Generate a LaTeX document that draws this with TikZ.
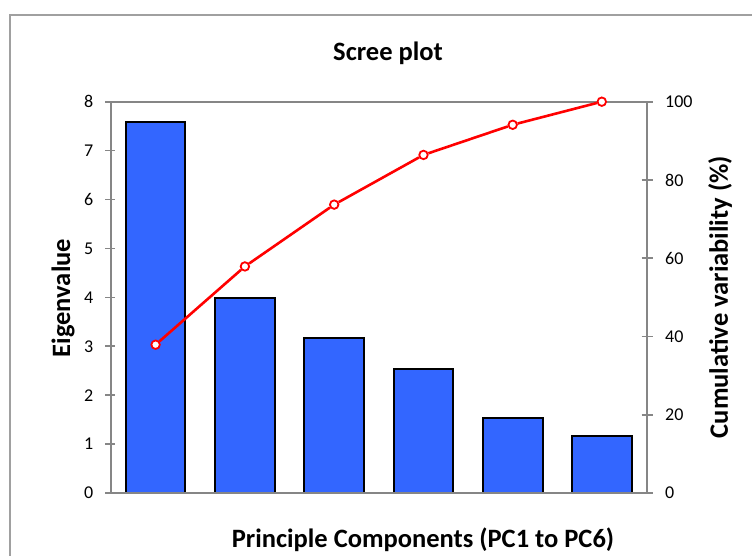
\documentclass[tikz,border=0pt]{standalone}
\usepackage{fontspec}
\setmainfont{Carlito}
\definecolor{barblue}{RGB}{51,102,255}
\definecolor{axisgray}{RGB}{134,134,134}
\definecolor{framegray}{RGB}{160,160,160}
\definecolor{linered}{RGB}{255,0,0}
\begin{document}
\begin{tikzpicture}[x=1pt,y=-1pt,
  axisline/.style={draw=axisgray,line width=2pt},
  tickline/.style={draw=axisgray,line width=1.6pt},
  bar/.style={draw=black,line width=2pt,fill=barblue},
  ticklab/.style={font=\fontsize{18}{21}\selectfont,inner sep=0pt},
  axtitle/.style={font=\fontsize{26.5}{30}\selectfont\bfseries,inner sep=0pt},
  mk/.style={circle,draw=linered,fill=white,line width=1.8pt,minimum size=8.5pt,inner sep=0pt},
  cumline/.style={draw=linered,line width=2.6pt}]
\useasboundingbox (0,0) rectangle (752,556);
\fill[white] (0,0) rectangle (752,556);
% outer frame
\draw[draw=framegray,line width=2pt] (10,570) -- (10,15) -- (770,15);
% bars
\foreach \c/\v in {155.6/7.58,244.9/3.99,334.2/3.17,423.5/2.54,512.7/1.53,602.0/1.17}{
  \draw[bar] (\c-29.8,493) rectangle (\c+29.8,{493-48.94*\v});
}
% axes
\draw[axisline] (111,101.7) -- (111,493);
\draw[axisline] (646.7,101.7) -- (646.7,493);
\draw[axisline] (105,493) -- (652.5,493);
\draw[axisline] (105,101.7) -- (652.5,101.7);
\foreach \k in {1,...,7}{
  \draw[tickline] (105,{493-48.91*\k}) -- (114.5,{493-48.91*\k});
}
\foreach \k in {1,...,4}{
  \draw[tickline] (641.5,{493-78.26*\k}) -- (652.5,{493-78.26*\k});
}
% tick labels
\foreach \k in {0,...,8}{
  \node[ticklab,anchor=east] at (93.5,{493-48.91*\k}) {\k};
}
\foreach \k in {0,20,40,60,80,100}{
  \node[ticklab,anchor=west] at (665,{493-3.913*\k}) {\k};
}
% cumulative line
\node[mk] (p1) at (155.6,{493-3.913*37.9}) {};
\node[mk] (p2) at (244.9,{493-3.913*57.9}) {};
\node[mk] (p3) at (334.2,{493-3.913*73.7}) {};
\node[mk] (p4) at (423.5,{493-3.913*86.4}) {};
\node[mk] (p5) at (512.7,{493-3.913*94.1}) {};
\node[mk] (p6) at (601.8,{493-3.913*100}) {};
\draw[cumline] (p1) -- (p2) -- (p3) -- (p4) -- (p5) -- (p6);
% titles
\node[axtitle] (title) at (388,53) {Scree plot};
\node[axtitle,rotate=90] (ylab) at (63,298) {Eigenvalue};
\node[axtitle,rotate=90] (y2lab) at (720,297) {Cumulative variability (\%)};
\node[axtitle] (xlab) at (423,540) {Principle Components (PC1 to PC6)};
\end{tikzpicture}
\end{document}
